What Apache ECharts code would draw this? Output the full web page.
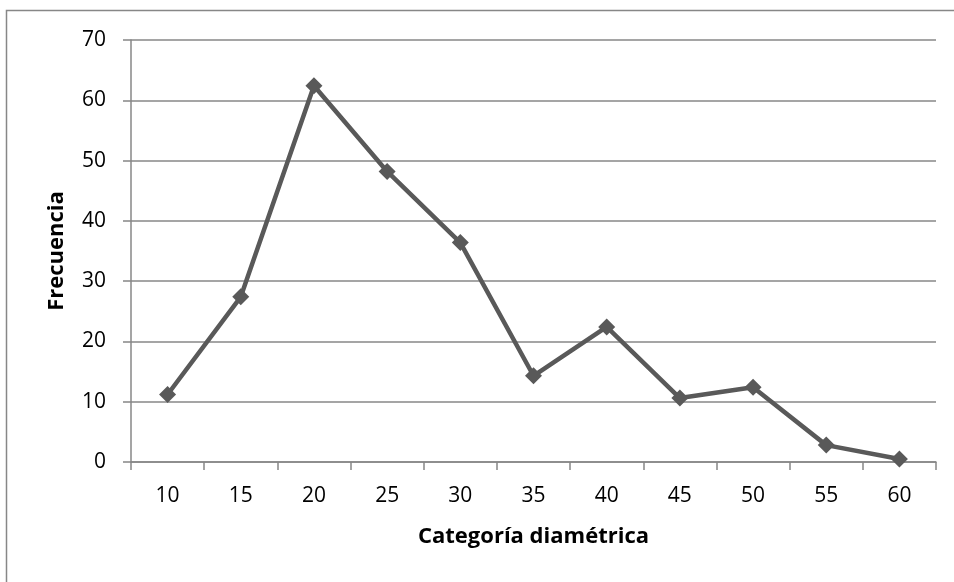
<!DOCTYPE html>
<html>
<head>
<meta charset="utf-8">
<script src="https://cdn.jsdelivr.net/npm/echarts@6/dist/echarts.min.js"></script>
<style>
  html, body { margin: 0; padding: 0; background: #ffffff; }
  #chart { width: 954px; height: 582px; }
</style>
</head>
<body>
<div id="chart"></div>
<script>
// Diameter classes (cm) and tree counts per class
const categories = ['10', '15', '20', '25', '30', '35', '40', '45', '50', '55', '60'];
const frequencies = [11.2, 27.4, 62.4, 48.2, 36.4, 14.3, 22.4, 10.6, 12.4, 2.8, 0.5];
const yTicks = { min: 0, max: 70, interval: 10 };

const FONT = '"Open Sans", "Liberation Sans", sans-serif';
const chart = echarts.init(document.getElementById('chart'), null, { renderer: 'canvas' });

chart.setOption({
  backgroundColor: '#ffffff',
  animation: false,
  graphic: [{
    type: 'rect',
    shape: { x: 6.5, y: 10.5, width: 1000, height: 1000 },
    style: { fill: 'none', stroke: '#878787', lineWidth: 1.5 },
    silent: true
  }],
  grid: { left: 131, right: 18, top: 40, bottom: 120, containLabel: false },
  xAxis: {
    type: 'category',
    data: categories,
    boundaryGap: true,
    name: 'Categoría diamétrica',
    nameLocation: 'middle',
    nameGap: 64,
    nameTextStyle: { fontFamily: FONT, fontSize: 22, fontWeight: 'bold', color: '#000' },
    axisLine: { lineStyle: { color: '#878787', width: 1.5 } },
    axisTick: { show: true, length: 8, alignWithLabel: false, lineStyle: { color: '#878787', width: 1.5 } },
    axisLabel: { fontFamily: FONT, fontSize: 21, color: '#000', margin: 24 },
    splitLine: { show: false }
  },
  yAxis: {
    type: 'value',
    min: yTicks.min,
    max: yTicks.max,
    interval: yTicks.interval,
    name: 'Frecuencia',
    nameLocation: 'middle',
    nameGap: 63,
    nameRotate: 90,
    nameTextStyle: { fontFamily: FONT, fontSize: 22, fontWeight: 'bold', color: '#000' },
    axisLine: { show: true, lineStyle: { color: '#878787', width: 1.5 } },
    axisTick: { show: true, length: 8, lineStyle: { color: '#878787', width: 1.5 } },
    axisLabel: { fontFamily: FONT, fontSize: 21, color: '#000', margin: 25 },
    splitLine: { show: true, lineStyle: { color: '#878787', width: 1.5 } }
  },
  series: [{
    type: 'line',
    data: frequencies,
    symbol: 'diamond',
    symbolSize: 17,
    lineStyle: { color: '#595959', width: 4.5 },
    itemStyle: { color: '#595959' },
    z: 3
  }]
});
</script>
</body>
</html>
